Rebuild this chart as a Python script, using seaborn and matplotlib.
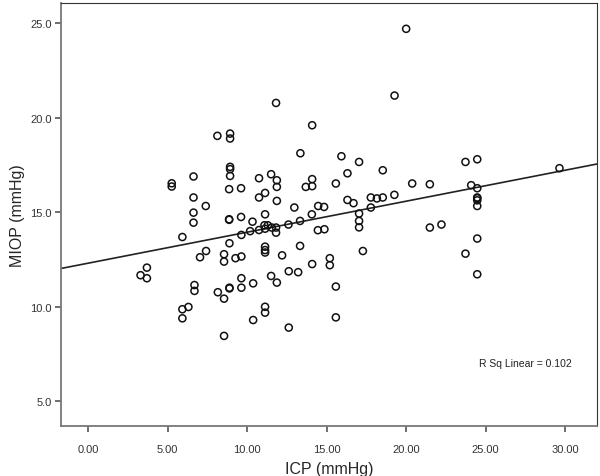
import numpy as np
import pandas as pd
import seaborn as sns
import matplotlib
matplotlib.use("Agg")
import matplotlib.pyplot as plt
from matplotlib.ticker import FormatStrFormatter

# values
icp = [3.30, 3.70, 3.70, 5.26, 5.26, 5.93, 5.93, 6.31, 5.93, 6.63,
       6.63, 6.63, 6.63, 6.69, 6.69, 7.04, 7.40, 7.42, 8.13, 8.93,
       8.93, 8.93, 8.93, 8.93, 8.87, 9.62, 8.87, 8.87, 9.62, 8.55,
       8.55, 8.89, 9.27, 9.64, 9.64, 8.16, 8.55, 8.89, 8.89, 9.64,
       9.64, 10.38, 8.55, 10.38, 11.13, 11.13, 10.75, 10.75, 11.13, 11.51,
       11.87, 11.87, 11.87, 11.82, 11.13, 10.34, 10.19, 10.75, 11.09, 11.30,
       11.13, 11.55, 11.82, 11.82, 11.13, 11.13, 11.13, 12.20, 11.51, 11.87,
       12.60, 13.33, 14.07, 14.45, 14.86, 13.33, 12.97, 14.47, 14.84, 13.35,
       14.09, 14.09, 13.69, 14.09, 15.58, 15.93, 16.31, 17.04, 18.53, 16.31,
       16.69, 17.78, 18.16, 18.53, 19.26, 17.78, 17.04, 17.04, 17.04, 17.28,
       15.20, 15.20, 14.09, 12.62, 13.21, 15.58, 15.58, 12.62, 19.27, 20.00,
       20.38, 21.49, 23.73, 24.47, 24.09, 24.47, 24.47, 24.47, 24.47, 24.47,
       21.49, 22.22, 24.47, 23.73, 24.47, 29.64]
miop = [11.67, 12.07, 11.51, 16.53, 16.36, 13.69, 9.87, 9.99, 9.39, 16.89,
        15.78, 14.98, 14.45, 11.15, 10.84, 12.62, 15.33, 12.95, 19.04, 19.16,
        18.90, 17.40, 17.28, 16.92, 16.22, 16.27, 14.63, 14.60, 14.75, 12.78,
        12.39, 13.36, 12.57, 12.66, 13.80, 10.77, 10.43, 11.01, 10.97, 11.51,
        11.01, 11.24, 8.46, 9.30, 10.00, 9.69, 16.80, 15.78, 16.02, 17.01,
        16.69, 16.34, 15.60, 20.78, 14.89, 14.50, 14.00, 14.06, 14.31, 14.31,
        14.13, 14.19, 14.19, 13.92, 13.18, 13.00, 12.87, 12.72, 11.63, 11.28,
        14.35, 14.54, 14.89, 14.05, 14.10, 13.22, 15.25, 15.33, 15.28, 18.12,
        19.60, 16.75, 16.34, 16.38, 16.52, 17.96, 17.06, 17.66, 17.22, 15.65,
        15.48, 15.78, 15.73, 15.78, 15.92, 15.25, 14.93, 14.54, 14.20, 12.95,
        12.57, 12.20, 12.26, 11.88, 11.83, 11.07, 9.44, 8.90, 21.17, 24.70,
        16.52, 16.48, 17.66, 17.80, 16.43, 16.27, 15.78, 15.74, 15.63, 15.33,
        14.19, 14.35, 13.61, 12.81, 11.72, 17.33]

x_ticks = [0, 5, 10, 15, 20, 25, 30]
y_ticks = [5, 10, 15, 20, 25]

df = pd.DataFrame({"ICP": icp, "MIOP": miop})

sns.set_style("white")
plt.rcParams["font.family"] = ["Liberation Sans", "DejaVu Sans"]

fig = plt.figure(figsize=(6, 4.77), dpi=100)
ax = fig.add_axes([0.1025, 0.105, 0.8925, 0.886])
ax.set_xlim(-1.67, 32.0)
ax.set_ylim(3.7, 26.05)

sns.scatterplot(data=df, x="ICP", y="MIOP", ax=ax, marker="o", s=26,
                facecolors="none", edgecolor="#111111", linewidth=1.1, zorder=3)
sns.regplot(data=df, x="ICP", y="MIOP", ax=ax, scatter=False, ci=None,
            truncate=False, line_kws=dict(color="#222222", lw=1.2))

ax.text(0.78, 0.148, "R Sq Linear = 0.102", transform=ax.transAxes,
        fontsize=7.5, color="#222222", va="center")

ax.set_xticks(x_ticks)
ax.set_yticks(y_ticks)
ax.xaxis.set_major_formatter(FormatStrFormatter("%.2f"))
ax.yaxis.set_major_formatter(FormatStrFormatter("%.1f"))
ax.tick_params(axis="both", direction="out", length=4, width=1.2,
               color="#555555", labelsize=8, labelcolor="#333333",
               bottom=True, left=True, pad=3)
ax.tick_params(axis="x", pad=9)
for side in ["top", "right"]:
    ax.spines[side].set_color("#333333")
for side in ["left", "bottom"]:
    ax.spines[side].set_color("#777777")
    ax.spines[side].set_linewidth(1.3)

ax.set_xlabel("ICP (mmHg)", fontsize=11.5, labelpad=5)
ax.set_ylabel("MIOP (mmHg)", fontsize=11.5, labelpad=4)

fig.savefig("out.png", dpi=100)
